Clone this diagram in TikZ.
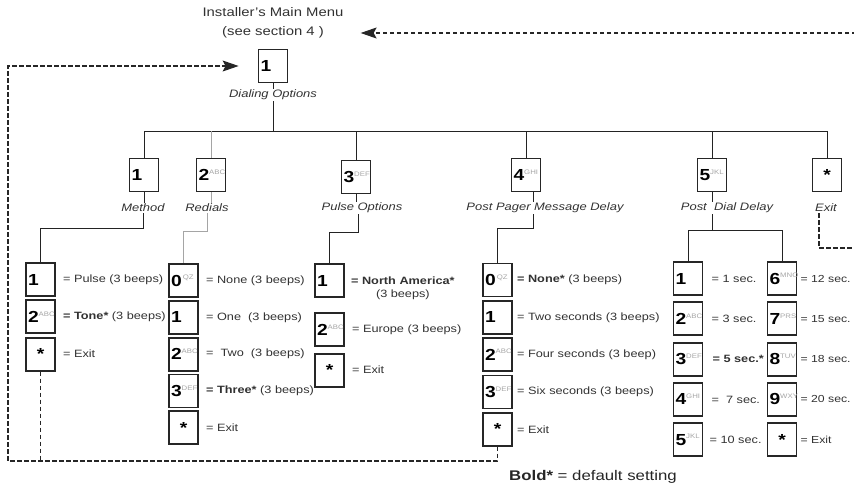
\documentclass[tikz,border=0pt]{standalone}
\usepackage{fontspec}
\setmainfont{Liberation Sans}[FakeStretch=1.2]
\usepackage{tikz}
\usetikzlibrary{arrows.meta,positioning}
\definecolor{inkgray}{RGB}{50,50,50}
\definecolor{wiregray}{RGB}{35,35,35}
\definecolor{palegray}{RGB}{165,165,165}
\newcommand{\kp}[2]{\textbf{#1}\textsuperscript{\color{palegray}\fontsize{6.5}{7}\selectfont\mdseries #2}}
\tikzset{
  keybox/.style={rectangle,draw=black!85,line width=1.8pt,fill=white,minimum width=29pt,
                 minimum height=33pt,text width=25pt,align=left,inner sep=1.5pt,
                 font=\fontsize{16}{17}\selectfont},
  skey/.style={keybox,align=center},
  desc/.style={text=inkgray,font=\fontsize{10.6}{13}\selectfont,inner sep=1pt},
  menucap/.style={text=inkgray,font=\fontsize{10.8}{12}\selectfont\itshape,inner sep=1pt},
  title/.style={text=inkgray,align=center,font=\fontsize{12.4}{19}\selectfont,inner sep=1pt},
  wire/.style={draw=wiregray,line width=0.9pt},
  pale/.style={draw=palegray,line width=0.9pt},
  dashline/.style={draw=black!85,line width=1.1pt,dash pattern=on 4.5pt off 2.5pt},
  dasharrow/.style={dashline,-{Stealth[length=16pt,width=11pt,inset=3pt]}},
}
\begin{document}
\begin{tikzpicture}[x=1pt,y=-1pt]
  \useasboundingbox (0,0) rectangle (854,485);
  \clip (0,0) rectangle (854,485);
  % top of the menu
  \node[title] (menu) at (273,23) {Installer's Main Menu\\(see section 4 )};
  \node[keybox] (dial) at (273,66) {\kp{1}{}};
  \node[menucap] (dialcap) at (273,95) {Dialing Options};
  \coordinate (bus) at (0,131);
  % second level
  \node[keybox] (meth) at (144,175) {\kp{1}{}};
  \node[keybox] (redi) at (211,175) {\kp{2}{ABC}};
  \node[keybox] (puls) at (356,177) {\kp{3}{DEF}};
  \node[keybox] (page) at (526,175) {\kp{4}{GHI}};
  \node[keybox] (pdly) at (712,175) {\kp{5}{JKL}};
  \node[skey] (exit) at (827,175) {\textbf{*}};
  \node[menucap] (methcap) at (143,208) {Method};
  \node[menucap] (redicap) at (207,208) {Redials};
  \node[menucap] (pulscap) at (362,208) {Pulse Options};
  \node[menucap] (pagecap) at (545,208) {Post Pager Message Delay};
  \node[menucap] (pdlycap) at (727,208) {Post\ \ Dial Delay};
  \node[menucap] (exitcap) at (826,208) {Exit};
  \draw[wire] (dial) -- (dialcap);
  \draw[wire] (dialcap.south) -- (dialcap.south |- bus);
  \draw[wire] (meth.north |- bus) -- (exit.north |- bus);
  \draw[wire] (meth.north |- bus) -- (meth);
  \draw[pale] (redi.north |- bus) -- (redi);
  \draw[wire] (puls.north |- bus) -- (puls);
  \draw[wire] (page.north |- bus) -- (page);
  \draw[wire] (pdly.north |- bus) -- (pdly);
  \draw[wire] (exit.north |- bus) -- (exit);
  \draw[wire] (meth.south) -- (meth.south |- methcap.north);
  \draw[pale] (redi.south) -- (redi.south |- redicap.north);
  \draw[wire] (puls.south) -- (puls.south |- pulscap.north);
  \draw[wire] ([xshift=7pt]page.south) -- ([xshift=-12pt]pagecap.north);
  \draw[wire] (pdly.south) -- (pdly.south |- pdlycap.north);
  % Method
  \node[keybox] (m1) at (40.5,279.5) {\kp{1}{}};
  \node[keybox,below=2.5pt of m1] (m2) {\kp{2}{ABC}};
  \node[skey,below=2.5pt of m2] (m3) {\textbf{*}};
  \node[desc,right=6pt of m1] (m1t) {= Pulse (3 beeps)};
  \node[desc,right=6pt of m2] (m2t) {\textbf{= Tone*} (3 beeps)};
  \node[desc,right=6pt of m3] (m3t) {= Exit};
  \draw[wire] (methcap.south) -- ++(0,15) -| (m1.north);
  % Redials
  \node[keybox] (r1) at (183.5,280.5) {\kp{0}{\,QZ}};
  \node[keybox,below=2pt of r1] (r2) {\kp{1}{}};
  \node[keybox,below=2pt of r2] (r3) {\kp{2}{ABC}};
  \node[keybox,below=2pt of r3] (r4) {\kp{3}{DEF}};
  \node[skey,below=2pt of r4] (r5) {\textbf{*}};
  \node[desc,right=6pt of r1] (r1t) {= None (3 beeps)};
  \node[desc,right=6pt of r2] (r2t) {= One\ \ (3 beeps)};
  \node[desc,right=6pt of r3] (r3t) {=\ \ Two\ \ (3 beeps)};
  \node[desc,right=6pt of r4] (r4t) {\textbf{= Three*} (3 beeps)};
  \node[desc,right=6pt of r5] (r5t) {= Exit};
  \draw[pale] (redicap.south) -- ++(0,18) -| (r1.north);
  % Pulse Options
  \node[keybox] (p1) at (329.5,280.5) {\kp{1}{}};
  \node[keybox,below=14.5pt of p1] (p2) {\kp{2}{ABC}};
  \node[skey,below=5.5pt of p2] (p3) {\textbf{*}};
  \node[desc,align=center,right=5pt of p1,yshift=-8pt] (p1t) {\textbf{= North America*}\\(3 beeps)};
  \node[desc,right=6pt of p2] (p2t) {= Europe (3 beeps)};
  \node[desc,right=6pt of p3] (p3t) {= Exit};
  \draw[wire] ([xshift=-4pt]pulscap.south) -- ++(0,18) -| (p1.north);
  % Post Pager Message Delay
  \node[keybox] (g1) at (497.5,280) {\kp{0}{\,QZ}};
  \node[keybox,below=2.5pt of g1] (g2) {\kp{1}{}};
  \node[keybox,below=2.5pt of g2] (g3) {\kp{2}{ABC}};
  \node[keybox,below=2.5pt of g3] (g4) {\kp{3}{DEF}};
  \node[skey,below=2.5pt of g4] (g5) {\textbf{*}};
  \node[desc,right=3pt of g1] (g1t) {\textbf{= None*} (3 beeps)};
  \node[desc,right=3pt of g2] (g2t) {= Two seconds (3 beeps)};
  \node[desc,right=3pt of g3] (g3t) {= Four seconds (3 beep)};
  \node[desc,right=3pt of g4] (g4t) {= Six seconds (3 beeps)};
  \node[desc,right=3pt of g5] (g5t) {= Exit};
  \draw[wire] ([xshift=-12pt]pagecap.south) -- ++(0,14) -| (g1.north);
  % Post Dial Delay
  \node[keybox] (d1) at (688,278.5) {\kp{1}{}};
  \node[keybox,below=5.5pt of d1] (d2) {\kp{2}{ABC}};
  \node[keybox,below=5.5pt of d2] (d3) {\kp{3}{DEF}};
  \node[keybox,below=5.5pt of d3] (d4) {\kp{4}{GHI}};
  \node[keybox,below=5.5pt of d4] (d5) {\kp{5}{JKL}};
  \node[keybox] (e1) at (782,278.5) {\kp{6}{MNO}};
  \node[keybox,below=5.5pt of e1] (e2) {\kp{7}{PRS}};
  \node[keybox,below=5.5pt of e2] (e3) {\kp{8}{TUV}};
  \node[keybox,below=5.5pt of e3] (e4) {\kp{9}{WXY}};
  \node[skey,below=5.5pt of e4] (e5) {\textbf{*}};
  \node[desc,right=7pt of d1] (d1t) {= 1 sec.};
  \node[desc,right=7pt of d2] (d2t) {= 3 sec.};
  \node[desc,right=8pt of d3] (d3t) {\textbf{= 5 sec.*}};
  \node[desc,right=7pt of d4] (d4t) {=\ \ 7 sec.};
  \node[desc,right=5pt of d5] (d5t) {= 10 sec.};
  \tikzset{edge desc/.style={desc,inner sep=0pt,font=\fontsize{10.2}{13}\selectfont}}
  \node[edge desc,right=3pt of e1] (e1t) {= 12 sec.};
  \node[edge desc,right=3pt of e2] (e2t) {= 15 sec.};
  \node[edge desc,right=3pt of e3] (e3t) {= 18 sec.};
  \node[edge desc,right=3pt of e4] (e4t) {= 20 sec.};
  \node[edge desc,right=3pt of e5] (e5t) {= Exit};
  \draw[wire] ([xshift=-15pt]pdlycap.south) -- ++(0,16) coordinate (split);
  \draw[wire] (d1.north) |- (split) -| (e1.north);
  % ways back
  \coordinate (corner) at (8,461);
  \coordinate (rimR) at (870,248);
  \coordinate (rimT) at (870,33);
  \draw[dasharrow] (g5.south) |- (corner) |- ([xshift=-19pt]dial.west);
  \draw[dashline] (m3.south) -- (m3.south |- corner);
  \draw[dashline] ([xshift=-7pt]exitcap.south) |- (rimR);
  \draw[dasharrow] (rimT) -- ([xshift=16pt,yshift=-10pt]menu.east);
  \node[text=black!85,font=\fontsize{14}{16}\selectfont] (legend) at (593,477) {\textbf{Bold*} = default setting};
\end{tikzpicture}
\end{document}
